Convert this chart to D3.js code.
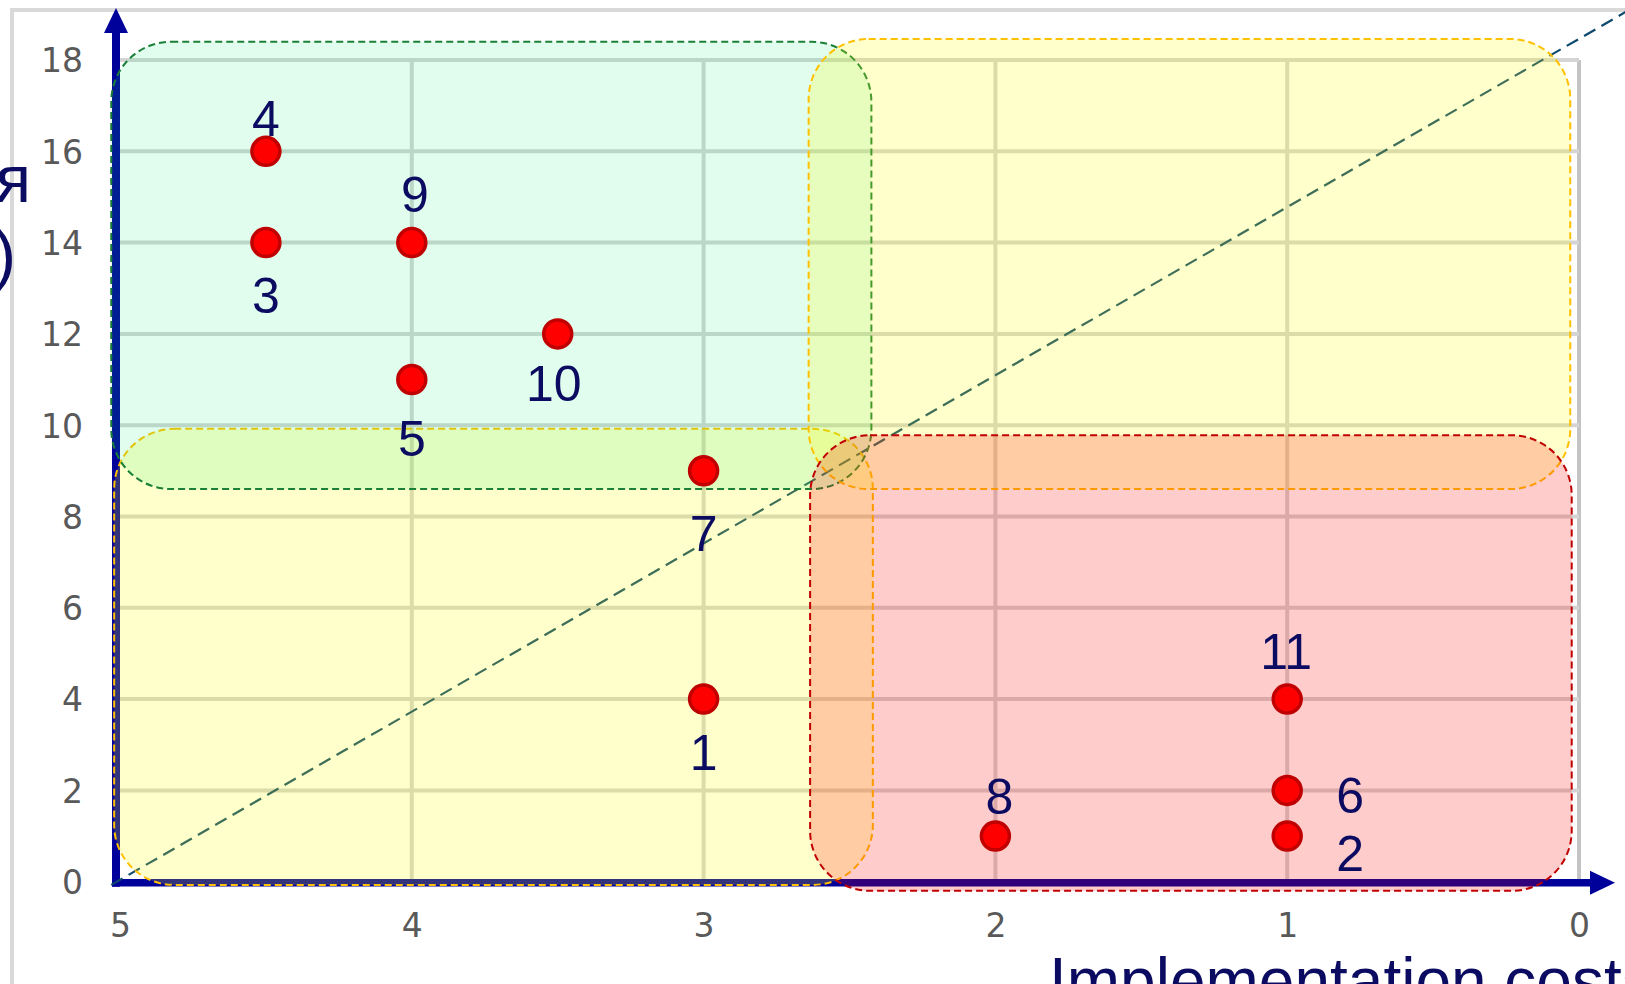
<!DOCTYPE html>
<html>
<head>
<meta charset="utf-8">
<script src="https://cdn.jsdelivr.net/npm/d3@7"></script>
<style>
  body { margin: 0; background: #fff; overflow: hidden; }
  svg { display: block; }
</style>
</head>
<body>
<svg id="chart" width="1625" height="984"></svg>
<script>
// measures: implementation cost (x, reversed) vs effect (y)
const ids     = [1, 2, 3, 4, 5, 6, 7, 8, 9, 10, 11];
const costs   = [3, 1, 4.5, 4.5, 4, 1, 3, 2, 4, 3.5, 1];
const effects = [4, 1, 14, 16, 11, 2, 9, 1, 14, 12, 4];

const xTicks = [5, 4, 3, 2, 1, 0];
const yTicks = [0, 2, 4, 6, 8, 10, 12, 14, 16, 18];

// zones drawn over the plot, in data units
const zoneNames = ["yellowLow", "green", "yellowHigh", "red"];
const zoneX0 = [5.02, 5.03, 2.64, 2.635];
const zoneX1 = [2.42, 2.425, 0.03, 0.025];
const zoneY0 = [-0.07, 8.6, 8.6, -0.2];
const zoneY1 = [9.92, 18.4, 18.46, 9.78];

// dashed diagonal guide
const diagX = [5.03, -0.2];
const diagY = [-0.07, 19.2];

const xTitle = "Implementation costs";
const yTitleTail = ["я", ")"];

// styles
const zoneStyle = {
  yellowLow:  { fill: "rgba(255,255,0,0.2)", stroke: "#ffc000" },
  green:      { fill: "rgba(0,240,110,0.12)", stroke: "#1a8038" },
  yellowHigh: { fill: "rgba(255,255,0,0.2)", stroke: "#ffc000" },
  red:        { fill: "rgba(255,0,0,0.2)", stroke: "#c00000" }
};
// label nudges in px (centre of label relative to point)
const labelOffset = {
  1: [0, 53], 2: [63, 17], 3: [0, 52], 4: [0, -33], 5: [0, 58], 6: [63, 5],
  7: [0, 62], 8: [4, -40], 9: [3, -49], 10: [-4, 49], 11: [-1, -48]
};

const navy = "#0b0b61";
const axisBlue = "#00009a";

const svg = d3.select("#chart");

const x = d3.scaleLinear().domain([5, 0]).range([120, 1579]);
const y = d3.scaleLinear().domain([0, 18]).range([881.7, 60]);

// outer chart frame
svg.append("rect")
  .attr("x", 12).attr("y", 10)
  .attr("width", 1800).attr("height", 1200)
  .attr("fill", "none")
  .attr("stroke", "#d9d9d9")
  .attr("stroke-width", 4);

// gridlines
const grid = svg.append("g");
grid.selectAll("line.v")
  .data(xTicks.filter(d => d !== 5))
  .join("line")
  .attr("x1", d => x(d)).attr("x2", d => x(d))
  .attr("y1", y(0)).attr("y2", y(18))
  .attr("stroke", d => d === 0 ? "#c4c4c4" : "#d4d4d4")
  .attr("stroke-width", 4);
grid.selectAll("line.h")
  .data(yTicks.filter(d => d !== 0))
  .join("line")
  .attr("x1", x(5)).attr("x2", x(0))
  .attr("y1", d => y(d)).attr("y2", d => y(d))
  .attr("stroke", "#d4d4d4")
  .attr("stroke-width", 4);

// tick labels
svg.append("g")
  .attr("transform", `translate(0,${y(0) + 52})`)
  .call(d3.axisBottom(x).tickValues(xTicks).tickSize(0).tickFormat(d3.format("d")))
  .call(g => g.select(".domain").remove())
  .selectAll("text")
  .attr("dy", 0)
  .attr("font-family", "DejaVu Sans, sans-serif")
  .attr("font-size", 33)
  .attr("fill", "#595959");

svg.append("g")
  .attr("transform", `translate(83,0)`)
  .call(d3.axisLeft(y).tickValues(yTicks).tickSize(0).tickPadding(0))
  .call(g => g.select(".domain").remove())
  .selectAll("text")
  .attr("dy", "0.36em")
  .attr("font-family", "DejaVu Sans, sans-serif")
  .attr("font-size", 33)
  .attr("fill", "#595959");

// axes with arrows
const ax = svg.append("g").attr("fill", axisBlue).attr("stroke", axisBlue);
const x0 = x(5) - 4, y0 = y(0) + 1;
ax.append("line")
  .attr("x1", x0).attr("x2", x0)
  .attr("y1", y0 + 4).attr("y2", 30)
  .attr("stroke-width", 8);
ax.append("path")
  .attr("stroke", "none")
  .attr("d", `M${x0 - 12},33 L${x0},8 L${x0 + 12},33 Z`);
ax.append("line")
  .attr("x1", x0 - 4).attr("x2", 1593)
  .attr("y1", y0).attr("y2", y0)
  .attr("stroke-width", 7.5);
ax.append("path")
  .attr("stroke", "none")
  .attr("d", `M1590,${y0 - 12} L1615,${y0} L1590,${y0 + 12} Z`);

// diagonal guide
svg.append("line")
  .attr("x1", x(diagX[0])).attr("y1", y(diagY[0]))
  .attr("x2", x(diagX[1])).attr("y2", y(diagY[1]))
  .attr("stroke", "#0e4a6e")
  .attr("stroke-width", 2.2)
  .attr("stroke-dasharray", "13,7");

// zones
svg.append("g")
  .selectAll("rect")
  .data(zoneNames.map((n, i) => ({ n, x0: zoneX0[i], x1: zoneX1[i], y0: zoneY0[i], y1: zoneY1[i] })))
  .join("rect")
  .attr("x", d => x(d.x0))
  .attr("y", d => y(d.y1))
  .attr("width", d => x(d.x1) - x(d.x0))
  .attr("height", d => y(d.y0) - y(d.y1))
  .attr("rx", 60).attr("ry", 60)
  .attr("fill", d => zoneStyle[d.n].fill)
  .attr("stroke", d => zoneStyle[d.n].stroke)
  .attr("stroke-width", 2)
  .attr("stroke-dasharray", "7,4");

// points
const pts = ids.map((id, i) => ({ id, c: costs[i], e: effects[i] }));

svg.append("g")
  .selectAll("circle")
  .data(pts)
  .join("circle")
  .attr("cx", d => x(d.c))
  .attr("cy", d => y(d.e))
  .attr("r", 14)
  .attr("fill", "#ff0000")
  .attr("stroke", "#c00000")
  .attr("stroke-width", 3.5);

svg.append("g")
  .selectAll("text")
  .data(pts)
  .join("text")
  .attr("x", d => x(d.c) + labelOffset[d.id][0])
  .attr("y", d => y(d.e) + labelOffset[d.id][1] + 18)
  .attr("text-anchor", "middle")
  .attr("font-family", "Liberation Sans, Arial, sans-serif")
  .attr("font-size", 50)
  .attr("fill", navy)
  .text(d => d.id);

// axis titles (cropped by the picture edges)
svg.append("text")
  .attr("x", 1049).attr("y", 1003)
  .attr("font-family", "Liberation Sans, Arial, sans-serif")
  .attr("font-size", 64)
  .attr("fill", navy)
  .text(xTitle);

svg.append("g")
  .selectAll("text")
  .data(yTitleTail)
  .join("text")
  .attr("x", (d, i) => i === 0 ? 31 : 16)
  .attr("y", (d, i) => i === 0 ? 202 : 277)
  .attr("text-anchor", "end")
  .attr("font-family", "Liberation Sans, Arial, sans-serif")
  .attr("font-size", 66)
  .attr("fill", navy)
  .text(d => d);
</script>
</body>
</html>
